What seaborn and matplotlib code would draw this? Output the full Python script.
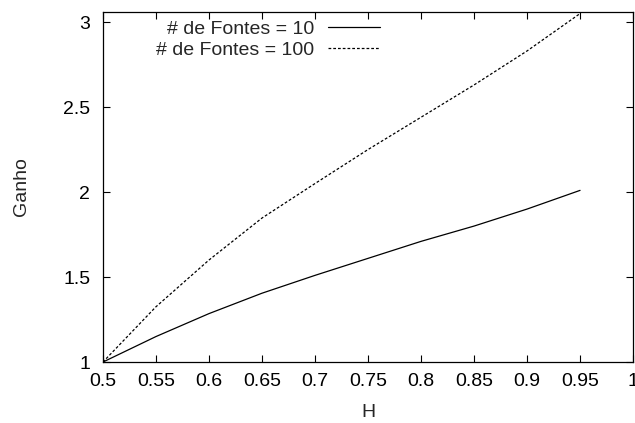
import pandas as pd
import seaborn as sns
import matplotlib.pyplot as plt

# dados
H = [0.5, 0.55, 0.6, 0.65, 0.7, 0.75, 0.8, 0.85, 0.9, 0.95]
ganho_10 = [1.0, 1.15, 1.285, 1.405, 1.51, 1.61, 1.71, 1.80, 1.90, 2.01]
ganho_100 = [1.0, 1.325, 1.60, 1.847, 2.05, 2.25, 2.44, 2.63, 2.83, 3.05]
series = ['# de Fontes = 10', '# de Fontes = 100']

df = pd.DataFrame({
    'H': H * 2,
    'Ganho': ganho_10 + ganho_100,
    'serie': [series[0]] * len(H) + [series[1]] * len(H),
})

sns.set_style('ticks')
plt.rcParams['font.family'] = ['Liberation Sans', 'DejaVu Sans']
fs = 14

fig = plt.figure(figsize=(6.35, 4.23), dpi=100)
ax = fig.add_axes([0.162, 0.144, 0.835, 0.828])

sns.lineplot(data=df, x='H', y='Ganho', style='serie', color='black',
             dashes={series[0]: '', series[1]: (2.2, 1.6)},
             linewidth=0.9, ax=ax)

ax.set_xlim(0.5, 1.0)
ax.set_ylim(1.0, 3.06)
ax.set_xticks([0.5, 0.55, 0.6, 0.65, 0.7, 0.75, 0.8, 0.85, 0.9, 0.95, 1.0])
ax.set_xticklabels(['0.5', '0.55', '0.6', '0.65', '0.7', '0.75', '0.8', '0.85', '0.9', '0.95', '1'])
ax.set_yticks([1, 1.5, 2, 2.5, 3])
ax.set_yticklabels(['1', '1.5', '2', '2.5', '3'])
ax.tick_params(direction='in', length=5, width=0.8, top=True, right=True,
               labelsize=fs, colors='black')
ax.tick_params(axis='x', pad=8)
ax.tick_params(axis='y', pad=9)
for s in ax.spines.values():
    s.set_visible(True)
    s.set_color('black')
    s.set_linewidth(0.9)

ax.set_xlabel('H', fontsize=fs, labelpad=10)
ax.set_ylabel('Ganho', fontsize=fs, labelpad=24)

handles, labels = ax.get_legend_handles_labels()
ax.legend(handles, labels, loc='upper right', bbox_to_anchor=(0.523, 0.977),
          frameon=False, markerfirst=False, handlelength=2.7,
          handletextpad=0.7, labelspacing=0.2, borderpad=0,
          borderaxespad=0, fontsize=fs)

fig.savefig('out.png', dpi=100)
